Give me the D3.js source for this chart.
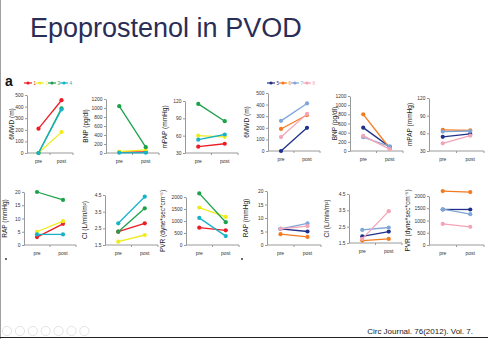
<!DOCTYPE html>
<html>
<head>
<meta charset="utf-8">
<script src="https://cdn.jsdelivr.net/npm/d3@7"></script>
<style>
  body { margin: 0; background: #fff; }
  svg { display: block; font-family: "Liberation Sans", Arial, sans-serif; }
</style>
</head>
<body>
<div class="canvas"></div>
<script>
// categories
const phases = ["pre", "post"];
const groupA = ["1", "2", "3", "4"];
const groupB = ["5", "6", "7", "8"];
const colorsA = ["#ec1c24", "#efec1a", "#1ba24b", "#17b2c6"];
const colorsB = ["#1f2f8c", "#f47a1f", "#7ea6d6", "#f5a3b6"];

// values per patient: [pre, post]
const mwdA = [[210, 455], [0, 180], [0, 385], [0, 375]];
const bnpA = [[20, 25], [30, 70], [1040, 130], [5, 5]];
const mpapA = [[41, 46], [60, 58], [115, 85], [53, 62]];
const rapA = [[3, 8], [5, 9], [20, 17], [4, 4]];
const ciA = [[2.3, 2.8], [1.7, 2.1], [2.3, 3.7], [2.8, 4.4]];
const pvrA = [[720, 610], [1560, 1170], [2150, 950], [1130, 370]];

const mwdB = [[0, 200], [190, 310], [260, 410], [120, 320]];
const bnpB = [[510, 90], [800, 60], [300, 100], [330, 40]];
const mpapB = [[54, 59], [66, 65], [63, 64], [43, 56]];
const rapB = [[6, 5], [4, 3], [6, 8], [6, 7]];
const ciB = [[1.9, 2.2], [1.65, 1.75], [2.3, 2.45], [1.75, 3.45]];
const pvrB = [[1450, 1450], [2200, 2160], [1460, 1260], [860, 740]];

// tick labels
const mwdTicks = [0, 100, 200, 300, 400, 500];
const bnpTicks = [0, 200, 400, 600, 800, 1000, 1200];
const mpapTicks = [30, 60, 90, 120];
const rapTicks = [0, 5, 10, 15, 20];
const ciTicks = [1.5, 2.5, 3.5, 4.5];
const pvrTicks = [0, 500, 1000, 1500, 2000];

const width = 488;
const height = 339;

const svg = d3
  .select(".canvas")
  .append("svg")
  .attr("width", width)
  .attr("height", height);

// slide frame
svg.append("line").attr("x1", 0.5).attr("x2", 0.5).attr("y1", 0).attr("y2", height)
  .attr("stroke", "#a0a0a0").attr("stroke-width", 1);
svg.append("line").attr("x1", 0).attr("x2", width).attr("y1", 337.5).attr("y2", 337.5)
  .attr("stroke", "#222").attr("stroke-width", 1);

// title
svg.append("text")
  .attr("x", 30)
  .attr("y", 37)
  .attr("font-size", 27)
  .attr("fill", "#2a2d55")
  .text("Epoprostenol in PVOD");

svg.append("text")
  .attr("x", 5)
  .attr("y", 86)
  .attr("font-size", 14)
  .attr("font-weight", "bold")
  .attr("fill", "#111")
  .text("a");

// legends
const legend = (names, colors, x0) => {
  const lx = d3.scalePoint().domain(names).range([x0, x0 + 36]);
  const item = svg.selectAll(null).data(names).enter().append("g")
    .attr("transform", (d) => `translate(${lx(d)}, 83)`);
  item.append("line").attr("x1", 0).attr("x2", 8)
    .attr("stroke", (d, i) => colors[i]).attr("stroke-width", 1.2);
  item.append("circle").attr("cx", 4).attr("r", 1.6).attr("fill", (d, i) => colors[i]);
  item.append("text").attr("x", 9.5).attr("y", 1.6).attr("font-size", 4.5)
    .attr("fill", (d, i) => colors[i]).text((d) => d);
};
legend(groupA, colorsA, 24);
legend(groupB, colorsB, 267);

// one small chart
const panel = (cfg) => {
  const g = svg.append("g").attr("transform", `translate(${cfg.x}, 0)`);
  const x = d3.scalePoint().domain(phases).range([0, cfg.w]).padding(0.5);
  const y = d3.scaleLinear()
    .domain([cfg.ticks[0], cfg.ticks[cfg.ticks.length - 1]])
    .range([cfg.bottom, cfg.top]);

  const yAxis = d3.axisLeft(y).tickValues(cfg.ticks).tickSize(2).tickSizeOuter(0)
    .tickFormat(cfg.fmt || d3.format("d"));
  const yg = g.append("g").call(yAxis);
  yg.select(".domain").attr("stroke", "#9a9a9a");
  yg.selectAll(".tick line").attr("stroke", "#9a9a9a");
  yg.selectAll(".tick text").attr("font-size", 4.9).attr("fill", "#333").attr("x", -3.5)
    .attr("font-family", "Liberation Sans, Arial, sans-serif");

  // category axis with ticks between categories
  g.append("line").attr("x1", 0).attr("x2", cfg.w).attr("y1", cfg.bottom).attr("y2", cfg.bottom)
    .attr("stroke", "#9a9a9a");
  g.selectAll(null).data([cfg.w / 2, cfg.w]).enter().append("line")
    .attr("x1", (d) => d).attr("x2", (d) => d)
    .attr("y1", cfg.bottom).attr("y2", cfg.bottom + 2)
    .attr("stroke", "#9a9a9a");
  g.selectAll(null).data(phases).enter().append("text")
    .attr("x", (d) => x(d)).attr("y", cfg.bottom + 10)
    .attr("text-anchor", "middle").attr("font-size", 5).attr("fill", "#333")
    .text((d) => d);

  g.append("text")
    .attr("transform", `translate(${cfg.lx}, ${(cfg.top + cfg.bottom) / 2}) rotate(-90)`)
    .attr("text-anchor", "middle")
    .attr("font-size", 6.5)
    .attr("fill", "#222")
    .text(cfg.label);

  const line = d3.line().x((d, i) => x(phases[i])).y((d) => y(d));
  const series = g.selectAll(".series").data(cfg.values).enter().append("g").attr("class", "series");
  series.append("path")
    .attr("d", (d) => line(d))
    .attr("fill", "none")
    .attr("stroke", (d, i) => cfg.colors[i])
    .attr("stroke-width", 1.3);
  series.selectAll("circle").data((d, i) => d.map((v, j) => ({ v, j, c: cfg.colors[i] })))
    .enter().append("circle")
    .attr("cx", (d) => x(phases[d.j]))
    .attr("cy", (d) => y(d.v))
    .attr("r", 2.1)
    .attr("fill", (d) => d.c);
};

const pvrLabel = "PVR (dyne*sec*cm\u207B\u2075)";
const ciLabel = "CI (L/min/m\u00B2)";
const fmt1 = d3.format(".1f");

// top row
panel({ x: 27, w: 46, top: 95, bottom: 153, lx: -13, ticks: mwdTicks, values: mwdA, colors: colorsA, label: "6MWD (m)" });
panel({ x: 106, w: 53, top: 99, bottom: 153, lx: -18, ticks: bnpTicks, values: bnpA, colors: colorsA, label: "BNP (pg/dl)" });
panel({ x: 185, w: 53, top: 101, bottom: 153, lx: -18, ticks: mpapTicks, values: mpapA, colors: colorsA, label: "mPAP (mmHg)" });
panel({ x: 268, w: 52, top: 93, bottom: 151, lx: -19, ticks: mwdTicks, values: mwdB, colors: colorsB, label: "6MWD (m)" });
panel({ x: 350, w: 53, top: 96, bottom: 151, lx: -13, ticks: bnpTicks, values: bnpB, colors: colorsB, label: "BNP (pg/dl)" });
panel({ x: 429, w: 55, top: 98, bottom: 151, lx: -17, ticks: mpapTicks, values: mpapB, colors: colorsB, label: "mPAP (mmHg)" });

// bottom row
panel({ x: 24, w: 52, top: 192, bottom: 245, lx: -17, ticks: rapTicks, values: rapA, colors: colorsA, label: "RAP (mmHg)" });
panel({ x: 105, w: 53, top: 195, bottom: 245, lx: -18, ticks: ciTicks, values: ciA, colors: colorsA, label: ciLabel, fmt: fmt1 });
panel({ x: 186, w: 53, top: 197, bottom: 245, lx: -21, ticks: pvrTicks, values: pvrA, colors: colorsA, label: pvrLabel });
panel({ x: 267, w: 54, top: 191, bottom: 245, lx: -19, ticks: rapTicks, values: rapB, colors: colorsB, label: "RAP (mmHg)" });
panel({ x: 349, w: 53, top: 194, bottom: 243, lx: -20, ticks: ciTicks, values: ciB, colors: colorsB, label: ciLabel, fmt: fmt1 });
panel({ x: 429, w: 55, top: 196, bottom: 245, lx: -19, ticks: pvrTicks, values: pvrB, colors: colorsB, label: pvrLabel });

// stray bullets from the slide
svg.selectAll(null).data([6, 242]).enter().append("circle")
  .attr("cx", (d) => d).attr("cy", 259).attr("r", 0.9).attr("fill", "#222");

// viewer buttons
const buttons = svg.selectAll(null).data(d3.range(7)).enter().append("g")
  .attr("transform", (d) => `translate(${7 + d * 12.9}, 331)`);
buttons.append("circle").attr("r", 4.6).attr("fill", "none").attr("stroke", "#dcdcdc").attr("stroke-width", 0.8);

svg.append("text")
  .attr("x", 473)
  .attr("y", 334)
  .attr("text-anchor", "end")
  .attr("font-size", 8)
  .attr("fill", "#222")
  .text("Circ Journal. 76(2012). Vol. 7.");
</script>
</body>
</html>
